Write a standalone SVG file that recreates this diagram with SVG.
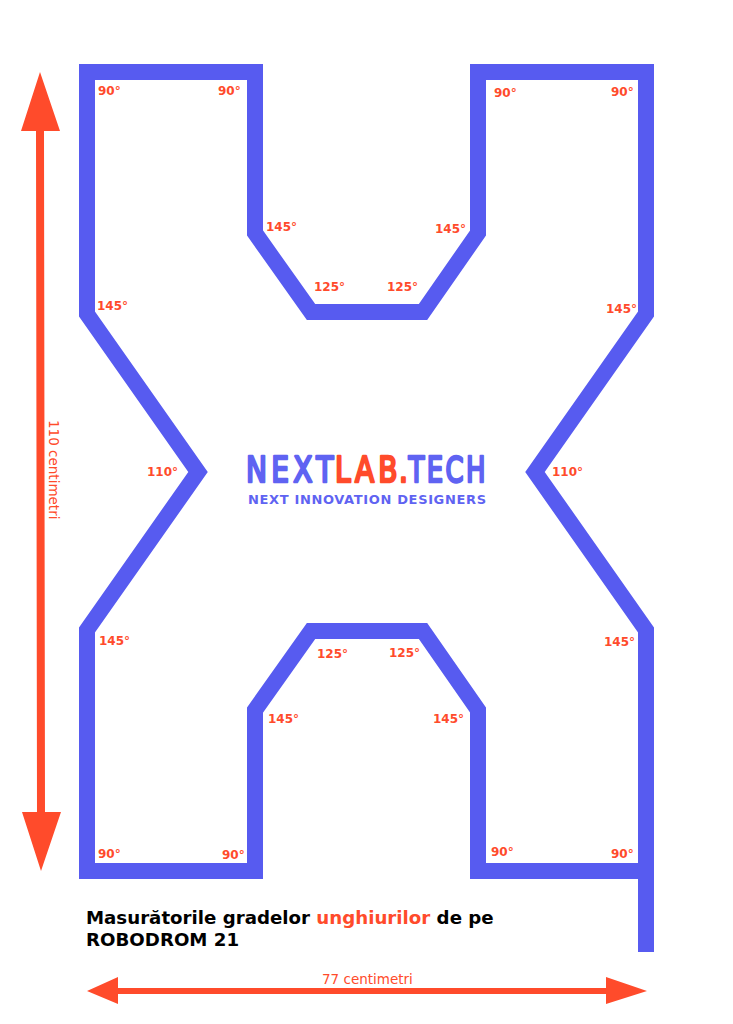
<svg xmlns="http://www.w3.org/2000/svg" width="733" height="1024" viewBox="0 0 733 1024">
<style>
.a{font:bold 12px "DejaVu Sans",sans-serif;fill:#ff4b2b}
.d{font:13.5px "DejaVu Sans",sans-serif;fill:#ff4b2b}
.t{font:bold 18.2px "DejaVu Sans",sans-serif;fill:#000}
.track{fill:none;stroke:#575bf0;stroke-width:16;stroke-miterlimit:10}
.dim{fill:#ff4b2b}
.l{font:36px "DejaVu Sans",sans-serif;fill:#5f63f2;stroke:#5f63f2;stroke-width:2.6;stroke-linejoin:round}
.r{fill:#ff4b2b;stroke:#ff4b2b}
</style>
<rect width="733" height="1024" fill="#fff"/>
<g id="track">
<path class="track" d="M87 72H255V233L311 312H423L478 233V72H646V314L535 472L646 630V871H478V710L423 631H311L255 710V871H87V630L198 472L87 314Z"/>
<rect x="638" y="871" width="16" height="81" fill="#575bf0"/>
</g>
<g id="connectors">
<g id="dim-height"><path class="dim" d="M40 72L60 131H44L45 812H61L41 871L22 812H37L36 131H21Z"/></g>
<g id="dim-width"><path class="dim" d="M87 991L118 977V988H606V977L647 991L606 1004V994H118V1004Z"/></g>
</g>
<g id="labels-top-left"><text class="a" x="98" y="95">90°</text><text class="a" x="218" y="95">90°</text><text class="a" x="97" y="310">145°</text><text class="a" x="266" y="231">145°</text><text class="a" x="314" y="291">125°</text></g>
<g id="labels-top-right"><text class="a" x="494" y="97">90°</text><text class="a" x="611" y="96">90°</text><text class="a" x="606" y="313">145°</text><text class="a" x="435" y="233">145°</text><text class="a" x="387" y="291">125°</text></g>
<g id="labels-middle"><text class="a" x="147" y="476">110°</text><text class="a" x="552" y="476">110°</text></g>
<g id="labels-bottom-left"><text class="a" x="99" y="645">145°</text><text class="a" x="268" y="723">145°</text><text class="a" x="317" y="658">125°</text><text class="a" x="98" y="858">90°</text><text class="a" x="222" y="859">90°</text></g>
<g id="labels-bottom-right"><text class="a" x="604" y="646">145°</text><text class="a" x="433" y="723">145°</text><text class="a" x="389" y="657">125°</text><text class="a" x="491" y="856">90°</text><text class="a" x="611" y="858">90°</text></g>
<g id="logo">
<text class="l" transform="translate(246 482) scale(.78 1)" textLength="112" lengthAdjust="spacing">NEXT</text>
<text class="l r" transform="translate(335 482) scale(.78 1)" textLength="80" lengthAdjust="spacing">LAB</text>
<text class="l r" transform="translate(399 482) scale(.78 1)">.</text>
<text class="l" transform="translate(408.500 482) scale(.72 1)" textLength="107" lengthAdjust="spacing">TECH</text>
<text x="248" y="504" font-family="'DejaVu Sans',sans-serif" font-weight="bold" font-size="13" textLength="238" lengthAdjust="spacing" fill="#5f63f2">NEXT INNOVATION DESIGNERS</text>
</g>
<g id="caption">
<text class="t" x="86" y="924">Masurătorile gradelor <tspan fill="#ff4b2b">unghiurilor</tspan> de pe</text>
<text class="t" x="86" y="946">ROBODROM 21</text>
</g>
<text class="d" x="322" y="984">77 centimetri</text>
<text class="d" transform="translate(49 420) rotate(90)">110 centimetri</text>
</svg>
